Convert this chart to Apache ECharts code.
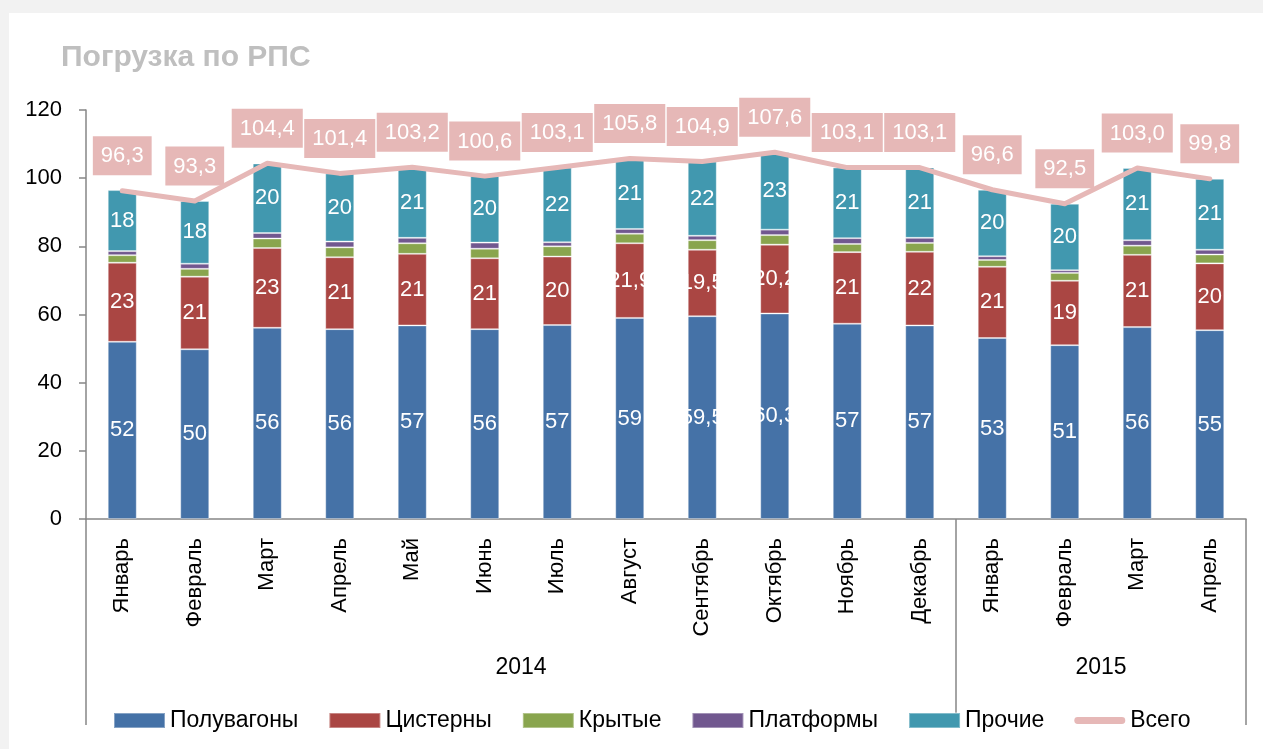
<!DOCTYPE html>
<html>
<head>
<meta charset="utf-8">
<script src="https://cdn.jsdelivr.net/npm/echarts@6/dist/echarts.min.js"></script>
<style>
    html, body { margin: 0; padding: 0; background: #f2f2f2; }
    #chart { width: 1263px; height: 749px; }
</style>
</head>
<body>
<div id="chart"></div>
<script>
// months along the axis and the year they belong to
const months = ["Январь", "Февраль", "Март", "Апрель", "Май", "Июнь", "Июль", "Август",
    "Сентябрь", "Октябрь", "Ноябрь", "Декабрь", "Январь", "Февраль", "Март", "Апрель"];
const years = ["2014", "2015"];
const monthsPerYear = [12, 4];

// loading by wagon type
const poluvagony = [52.0, 49.8, 56.1, 55.7, 56.8, 55.7, 56.9, 59, 59.5, 60.3, 57.3, 56.8, 53.1, 51.0, 56.3, 55.4];
const cisterny = [23.2, 21.3, 23.4, 21.1, 21.0, 20.8, 20.1, 21.9, 19.5, 20.2, 21.0, 21.6, 20.9, 18.9, 21.2, 19.6];
const krytye = [2.2, 2.3, 2.8, 2.9, 3.1, 2.8, 3.0, 2.8, 2.8, 2.8, 2.4, 2.6, 2.0, 2.3, 2.7, 2.6];
const platformy = [1.2, 1.5, 1.6, 1.7, 1.6, 1.8, 1.2, 1.4, 1.3, 1.6, 1.7, 1.5, 1.1, 0.8, 1.6, 1.4];
const prochie = [17.9, 18.4, 20.4, 20.0, 20.7, 19.6, 21.9, 20.7, 21.8, 22.7, 20.7, 20.6, 19.5, 19.5, 21.2, 20.8];
const vsego = [96.3, 93.3, 104.4, 101.4, 103.2, 100.6, 103.1, 105.8, 104.9, 107.6, 103.1, 103.1, 96.6, 92.5, 103.0, 99.8];

// months whose labels were kept with one decimal
const decimalMonths = [7, 8, 9];

const FONT = "'Liberation Sans', Arial, sans-serif";
const AXIS_GRAY = "#868686";

const comma = v => String(v).replace(".", ",");
const roundLabel = p => String(Math.round(p.value));
const mixedLabel = p => decimalMonths.includes(p.dataIndex) ? comma(p.value) : roundLabel(p);

// year boundaries and centres on a 0..n scale
const yearEdges = [0];
monthsPerYear.forEach(n => yearEdges.push(yearEdges[yearEdges.length - 1] + n));
const yearCenters = years.map((_, i) => (yearEdges[i] + yearEdges[i + 1]) / 2);

const chart = echarts.init(document.getElementById("chart"));

function barSeries(name, data, color, formatter) {
    return {
        name: name,
        type: "bar",
        stack: "all",
        barWidth: 29,
        data: data,
        itemStyle: { color: color, borderColor: "rgba(255,255,255,0.35)", borderWidth: 1 },
        label: {
            show: !!formatter,
            position: "inside",
            color: "#fff",
            fontSize: 22,
            fontFamily: FONT,
            formatter: formatter
        }
    };
}

chart.setOption({
    backgroundColor: "#f2f2f2",
    animation: false,
    graphic: [
        { type: "rect", left: 9, top: 13, shape: { width: 1254, height: 736 }, style: { fill: "#fff" }, z: -10 }
    ],
    title: {
        text: "Погрузка по РПС",
        left: 56,
        top: 38,
        textStyle: { color: "#bfbfbf", fontSize: 30, fontWeight: "bold", fontFamily: FONT }
    },
    legend: {
        bottom: 12,
        left: 108,
        itemWidth: 51,
        itemHeight: 15,
        itemGap: 30,
        textStyle: { fontSize: 23, fontFamily: FONT, color: "#000" },
        data: [
            { name: "Полувагоны", icon: "rect" },
            { name: "Цистерны", icon: "rect" },
            { name: "Крытые", icon: "rect" },
            { name: "Платформы", icon: "rect" },
            { name: "Прочие", icon: "rect" },
            { name: "Всего", icon: "path://M3,4 L48,4 A3.5,3.5 0 0 1 48,11 L3,11 A3.5,3.5 0 0 1 3,4 Z" }
        ]
    },
    grid: { left: 86, right: 17, top: 110, bottom: 230 },
    xAxis: [
        {
            type: "category",
            data: months,
            axisLine: { lineStyle: { color: AXIS_GRAY, width: 1.5 } },
            axisTick: { show: false },
            axisLabel: { rotate: 90, margin: 19, fontSize: 22, fontFamily: FONT, color: "#000" }
        },
        {
            type: "value",
            min: 0,
            max: months.length,
            position: "bottom",
            axisLine: { show: false },
            splitLine: { show: false },
            axisTick: {
                show: true,
                customValues: yearEdges,
                length: 206,
                lineStyle: { color: AXIS_GRAY, width: 1.5 }
            },
            axisLabel: {
                customValues: yearCenters,
                margin: 137,
                fontSize: 23,
                fontFamily: FONT,
                color: "#000",
                formatter: v => years[yearCenters.indexOf(v)]
            }
        }
    ],
    yAxis: {
        type: "value",
        min: 0,
        max: 120,
        interval: 20,
        splitLine: { show: false },
        axisLine: { show: true, lineStyle: { color: AXIS_GRAY, width: 1.5 } },
        axisTick: { show: true, length: 7, lineStyle: { color: AXIS_GRAY, width: 1.5 } },
        axisLabel: { margin: 24, fontSize: 22, fontFamily: FONT, color: "#000" }
    },
    series: [
        barSeries("Полувагоны", poluvagony, "#4572a7", mixedLabel),
        barSeries("Цистерны", cisterny, "#aa4643", mixedLabel),
        barSeries("Крытые", krytye, "#89a54e", null),
        barSeries("Платформы", platformy, "#71588f", null),
        barSeries("Прочие", prochie, "#4198af", roundLabel),
        {
            name: "Всего",
            type: "line",
            data: vsego,
            symbol: "circle",
            symbolSize: 1,
            showSymbol: true,
            z: 5,
            lineStyle: { color: "#e6b8b7", width: 5, cap: "round", join: "round" },
            itemStyle: { color: "#e6b8b7" },
            label: {
                show: true,
                position: "top",
                distance: 15,
                color: "#fff",
                fontSize: 22,
                lineHeight: 26,
                fontFamily: FONT,
                backgroundColor: "#e6b8b7",
                padding: [7, 8, 6, 8],
                formatter: p => comma(p.value.toFixed(1))
            }
        }
    ]
});
</script>
</body>
</html>
